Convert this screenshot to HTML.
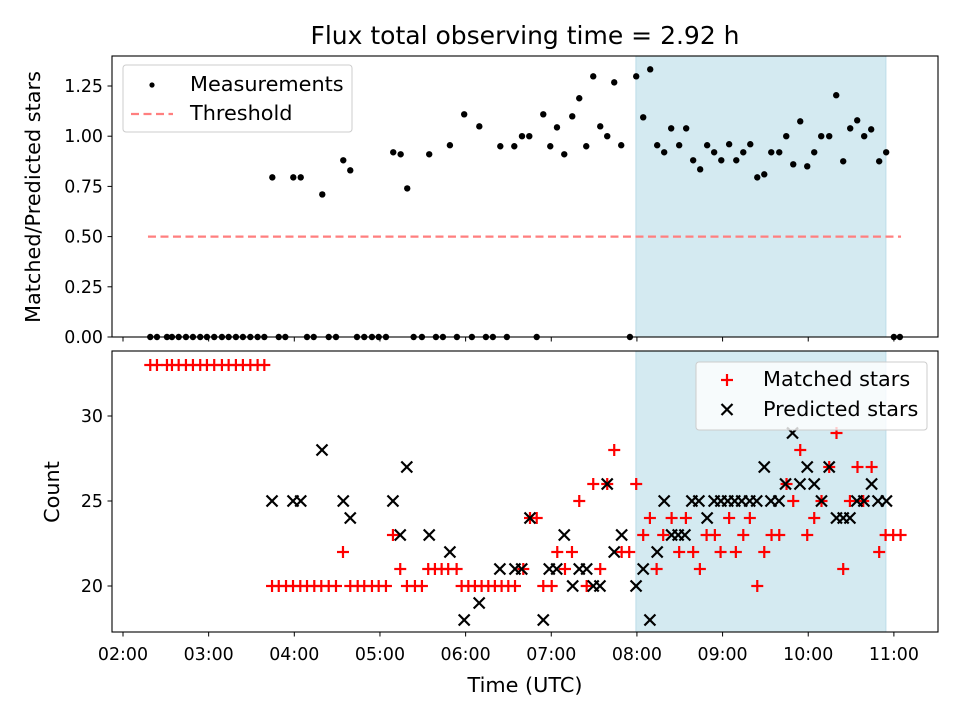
<!DOCTYPE html>
<html><head><meta charset="utf-8"><style>
body{margin:0;background:#fff;}
svg{display:block;font-family:"DejaVu Sans","Liberation Sans",sans-serif;}
</style></head><body>
<svg id="chart" width="960" height="720" viewBox="0 0 960 720"></svg>
<script>
// times in minutes since 02:00 UTC
const zeroTimes=[19.1,23.8,30.8,34.3,39.0,44.1,49.0,54.1,58.8,63.9,69.3,74.0,79.1,84.0,89.2,94.3,99.0,109.1,113.7,128.9,133.6,144.1,149.2,163.9,169.0,174.4,179.1,184.2,203.6,209.4,219.2,224.1,233.9,244.4,254.2,259.1,268.9,289.8,355.1,540.0,544.2];
const ratioTimes=[104.6,119.3,124.5,139.6,154.3,159.2,189.3,194.5,199.1,214.5,229.0,239.0,249.6,264.3,274.1,279.5,284.6,294.4,299.3,304.0,309.1,314.7,319.6,324.5,329.4,334.3,339.2,344.1,349.0,359.5,364.4,369.3,374.2,379.1,384.0,389.6,394.5,399.4,404.3,409.2,414.1,419.1,424.6,429.6,434.5,439.4,444.3,449.2,454.1,459.7,464.6,469.5,474.4,479.3,484.2,489.1,494.7,499.6,504.5,509.4,514.3,519.2,524.1,529.7,534.6];
const ratioValues=[0.795,0.795,0.795,0.71,0.88,0.83,0.92,0.91,0.74,0.91,0.955,1.109,1.049,0.95,0.95,1.0,1.0,1.109,0.95,1.044,0.91,1.099,1.189,0.95,1.298,1.049,1.0,1.268,0.955,1.298,1.094,1.333,0.955,0.92,1.039,0.955,1.039,0.88,0.835,0.955,0.92,0.88,0.96,0.88,0.92,0.96,0.795,0.81,0.92,0.92,1.0,0.86,1.074,0.85,0.92,1.0,1.0,1.204,0.875,1.039,1.079,1.0,1.034,0.875,0.92];
const thresholdValue=0.5;
const thresholdRange=[17.5,545];
const shadeRange=[359.3,534.4];
const matchedTimes=[19.1,23.8,30.8,34.3,39.0,44.1,49.0,54.1,58.8,63.9,69.3,74.0,79.1,84.0,89.2,94.3,99.0,
104.4,109.1,114.2,119.1,124.2,128.9,134.0,138.9,144.1,149.2,159.2,164.4,169.0,174.4,179.1,184.2,198.9,204.5,209.4,
154.1,189.1,194.2,213.8,218.5,223.2,227.8,233.7,237.2,241.9,246.5,251.2,255.9,260.5,265.2,269.9,274.6,
280.4,285.1,289.8,294.4,300.3,304.2,309.6,314.5,319.6,324.8,329.4,334.3,339.2,344.1,349.3,354.6,359.5,364.4,369.1,373.8,378.4,384.3,389.6,394.3,399.4,404.1,408.8,414.6,418.6,424.6,429.3,434.5,439.1,444.3,449.2,454.3,459.7,464.8,469.5,474.4,479.3,484.2,489.3,494.7,499.8,504.5,509.2,514.5,518.5,524.4,529.7,534.2,539.5,544.7];
const matchedValues=[33,33,33,33,33,33,33,33,33,33,33,33,33,33,33,33,33,
20,20,20,20,20,20,20,20,20,20,20,20,20,20,20,20,20,20,20,
22,23,21,21,21,21,21,21,20,20,20,20,20,20,20,20,20,
21,24,24,20,20,22,21,22,25,20,26,21,26,28,22,22,26,23,24,21,23,24,22,24,22,21,23,23,22,24,22,23,24,20,22,23,23,26,25,28,23,24,25,27,29,21,25,27,25,27,22,23,23,23];
const predTimes=[104.4,119.1,124.5,139.4,154.3,159.2,189.1,194.2,198.8,214.5,229.0,239.0,249.5,264.0,274.6,279.3,285.1,294.4,298.6,303.8,309.1,315.0,319.6,324.8,329.4,334.1,339.2,344.1,349.3,359.4,364.4,369.1,374.2,379.1,384.3,388.9,393.6,398.5,403.4,409.2,414.1,418.8,423.6,428.5,433.4,439.0,443.9,449.2,453.9,459.5,464.1,469.0,474.2,479.3,484.2,489.3,494.7,499.8,504.5,509.2,514.1,519.0,524.4,528.9,534.8];
const predValues=[25,25,25,28,25,24,25,23,27,23,22,18,19,21,21,21,24,18,21,21,23,20,21,21,20,20,26,22,23,20,21,18,22,25,23,23,23,25,25,24,25,25,25,25,25,25,25,27,25,25,26,29,26,27,26,25,27,24,24,24,25,25,26,25,25];
const xTickValues=[0,60,120,180,240,300,360,420,480,540];
const xTickLabels=["02:00","03:00","04:00","05:00","06:00","07:00","08:00","09:00","10:00","11:00"];
const topTicks=[0,0.25,0.5,0.75,1.0,1.25];
const topTickLabels=["0.00","0.25","0.50","0.75","1.00","1.25"];
const botTicks=[20,25,30];
const botTickLabels=["20","25","30"];

const NS="http://www.w3.org/2000/svg";
const svg=document.getElementById('chart');
function mk(tag,attrs,parent){const e=document.createElementNS(NS,tag);for(const k in attrs)e.setAttribute(k,attrs[k]);(parent||svg).appendChild(e);return e;}
const L=112,R=938;
const xMin=-7.7,xMax=570.9;
function X(m){return L+(m-xMin)/(xMax-xMin)*(R-L);}
const T={top:56,bot:337,min:0,max:1.3994};
const B={top:351,bot:632,min:17.294,max:33.824};
function YT(v){return T.bot-(v-T.min)/(T.max-T.min)*(T.bot-T.top);}
function YB(v){return B.bot-(v-B.min)/(B.max-B.min)*(B.bot-B.top);}
const TICK=17.4, LAB=20.8;

let t=mk('text',{x:525,y:44,'text-anchor':'middle','font-size':'25','fill':'#000'});
t.textContent='Flux total observing time = 2.92 h';



[[T],[B]].forEach(([P],i)=>{
  const r=mk('rect',{x:X(shadeRange[0]),y:P.top,width:X(shadeRange[1])-X(shadeRange[0]),height:P.bot-P.top,fill:'#d4eaf1',stroke:'#bcdce8','stroke-width':1});
  
  
});

const th=mk('line',{x1:X(thresholdRange[0]),x2:X(thresholdRange[1]),y1:YT(thresholdValue),y2:YT(thresholdValue),stroke:'#ff7f7f','stroke-width':2.2,'stroke-dasharray':'8,4.5'});



const gm=mk('g',{fill:'#000'});


zeroTimes.forEach(m=>{mk('circle',{cx:X(m),cy:YT(0),r:3.2},gm);});
ratioTimes.forEach((m,i)=>{mk('circle',{cx:X(m),cy:YT(ratioValues[i]),r:3.2},gm);});

const gp=mk('g',{stroke:'#ff0000','stroke-width':2.2});


matchedTimes.forEach((m,i)=>{const x=X(m),y=YB(matchedValues[i]);
  mk('line',{x1:x-6,x2:x+6,y1:y,y2:y},gp);mk('line',{x1:x,x2:x,y1:y-6,y2:y+6},gp);});
const gx=mk('g',{stroke:'#000','stroke-width':2.2});


predTimes.forEach((m,i)=>{const x=X(m),y=YB(predValues[i]);
  mk('line',{x1:x-5.5,x2:x+5.5,y1:y-5.5,y2:y+5.5},gx);mk('line',{x1:x-5.5,x2:x+5.5,y1:y+5.5,y2:y-5.5},gx);});

[[T,'top-axes-frame'],[B,'bottom-axes-frame']].forEach(([P,n])=>{
  const r=mk('rect',{x:L,y:P.top,width:R-L,height:P.bot-P.top,fill:'none',stroke:'#000','stroke-width':1.1});
  
  
});
xTickValues.forEach((v,i)=>{const x=X(v);
  mk('line',{x1:x,x2:x,y1:T.bot,y2:T.bot+4.5,stroke:'#000','stroke-width':1});
  mk('line',{x1:x,x2:x,y1:B.bot,y2:B.bot+4.5,stroke:'#000','stroke-width':1});
  const tx=mk('text',{x:x,y:B.bot+28,'text-anchor':'middle','font-size':TICK});
  tx.textContent=xTickLabels[i];
  
  
});
topTicks.forEach((v,i)=>{const y=YT(v);
  mk('line',{x1:L-4.5,x2:L,y1:y,y2:y,stroke:'#000','stroke-width':1});
  const tx=mk('text',{x:L-9,y:y+6,'text-anchor':'end','font-size':TICK});
  tx.textContent=topTickLabels[i];
  
  
});
botTicks.forEach((v,i)=>{const y=YB(v);
  mk('line',{x1:L-4.5,x2:L,y1:y,y2:y,stroke:'#000','stroke-width':1});
  const tx=mk('text',{x:L-9,y:y+6,'text-anchor':'end','font-size':TICK});
  tx.textContent=botTickLabels[i];
  
  
});
let a=mk('text',{x:0,y:0,'text-anchor':'middle','font-size':LAB,transform:'translate(40,197) rotate(-90)'});
a.textContent='Matched/Predicted stars';


a=mk('text',{x:0,y:0,'text-anchor':'middle','font-size':LAB,transform:'translate(59,492) rotate(-90)'});
a.textContent='Count';


a=mk('text',{x:525,y:692,'text-anchor':'middle','font-size':LAB});
a.textContent='Time (UTC)';



let lg=mk('g',{});


mk('rect',{x:123,y:65,width:229,height:67,rx:3,fill:'#fff','fill-opacity':0.8,stroke:'#ccc'},lg);
mk('circle',{cx:152,cy:85,r:2.6,fill:'#000'},lg);
let e=mk('text',{x:190,y:91,'font-size':LAB},lg);e.textContent='Measurements';


mk('line',{x1:131,x2:173,y1:114,y2:114,stroke:'#ff7f7f','stroke-width':2.2,'stroke-dasharray':'8,4.5'},lg);
e=mk('text',{x:190,y:120,'font-size':LAB},lg);e.textContent='Threshold';



lg=mk('g',{});


mk('rect',{x:696,y:362,width:231,height:68,rx:3,fill:'#fff','fill-opacity':0.8,stroke:'#ccc'},lg);
mk('line',{x1:721,x2:733,y1:380,y2:380,stroke:'#f00','stroke-width':2.2},lg);
mk('line',{x1:727,x2:727,y1:374,y2:386,stroke:'#f00','stroke-width':2.2},lg);
e=mk('text',{x:763,y:386,'font-size':LAB},lg);e.textContent='Matched stars';


mk('line',{x1:721.5,x2:732.5,y1:404,y2:415,stroke:'#000','stroke-width':2.2},lg);
mk('line',{x1:721.5,x2:732.5,y1:415,y2:404,stroke:'#000','stroke-width':2.2},lg);
e=mk('text',{x:763,y:416,'font-size':LAB},lg);e.textContent='Predicted stars';


</script>
</body></html>
